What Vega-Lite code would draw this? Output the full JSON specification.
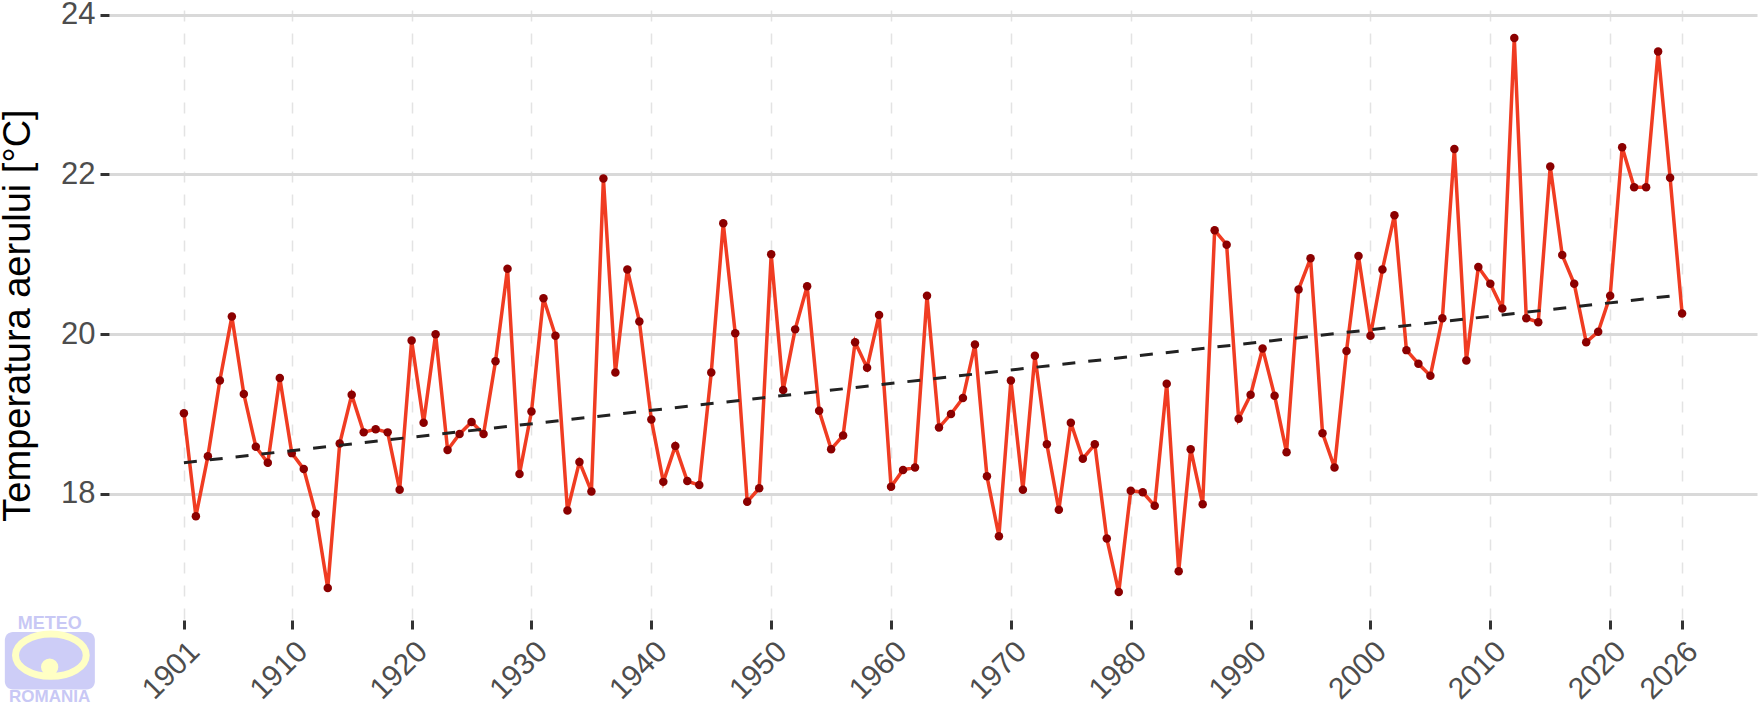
{
  "$schema": "https://vega.github.io/schema/vega-lite/v6.json",
  "width": 1648,
  "height": 610,
  "autosize": {"type": "none"},
  "padding": {"left": 109, "top": 10, "right": 1, "bottom": 85},
  "background": "white",
  "datasets": {
    "temp": [
      {"year": 1901, "temp": 19.01}, {"year": 1902, "temp": 17.72}, {"year": 1903, "temp": 18.47},
      {"year": 1904, "temp": 19.42}, {"year": 1905, "temp": 20.22}, {"year": 1906, "temp": 19.25},
      {"year": 1907, "temp": 18.59}, {"year": 1908, "temp": 18.39}, {"year": 1909, "temp": 19.45},
      {"year": 1910, "temp": 18.51}, {"year": 1911, "temp": 18.31}, {"year": 1912, "temp": 17.75},
      {"year": 1913, "temp": 16.82}, {"year": 1914, "temp": 18.63}, {"year": 1915, "temp": 19.24},
      {"year": 1916, "temp": 18.77}, {"year": 1917, "temp": 18.81}, {"year": 1918, "temp": 18.77},
      {"year": 1919, "temp": 18.05}, {"year": 1920, "temp": 19.92}, {"year": 1921, "temp": 18.89},
      {"year": 1922, "temp": 20.0}, {"year": 1923, "temp": 18.55}, {"year": 1924, "temp": 18.75},
      {"year": 1925, "temp": 18.9}, {"year": 1926, "temp": 18.75}, {"year": 1927, "temp": 19.66},
      {"year": 1928, "temp": 20.82}, {"year": 1929, "temp": 18.25}, {"year": 1930, "temp": 19.03},
      {"year": 1931, "temp": 20.45}, {"year": 1932, "temp": 19.98}, {"year": 1933, "temp": 17.79},
      {"year": 1934, "temp": 18.4}, {"year": 1935, "temp": 18.03}, {"year": 1936, "temp": 21.95},
      {"year": 1937, "temp": 19.52}, {"year": 1938, "temp": 20.81}, {"year": 1939, "temp": 20.16},
      {"year": 1940, "temp": 18.93}, {"year": 1941, "temp": 18.15}, {"year": 1942, "temp": 18.6},
      {"year": 1943, "temp": 18.16}, {"year": 1944, "temp": 18.11}, {"year": 1945, "temp": 19.52},
      {"year": 1946, "temp": 21.39}, {"year": 1947, "temp": 20.01}, {"year": 1948, "temp": 17.9},
      {"year": 1949, "temp": 18.07}, {"year": 1950, "temp": 21.0}, {"year": 1951, "temp": 19.3},
      {"year": 1952, "temp": 20.06}, {"year": 1953, "temp": 20.6}, {"year": 1954, "temp": 19.04},
      {"year": 1955, "temp": 18.56}, {"year": 1956, "temp": 18.73}, {"year": 1957, "temp": 19.9},
      {"year": 1958, "temp": 19.58}, {"year": 1959, "temp": 20.24}, {"year": 1960, "temp": 18.09},
      {"year": 1961, "temp": 18.3}, {"year": 1962, "temp": 18.33}, {"year": 1963, "temp": 20.48},
      {"year": 1964, "temp": 18.83}, {"year": 1965, "temp": 19.0}, {"year": 1966, "temp": 19.2},
      {"year": 1967, "temp": 19.87}, {"year": 1968, "temp": 18.22}, {"year": 1969, "temp": 17.47},
      {"year": 1970, "temp": 19.42}, {"year": 1971, "temp": 18.05}, {"year": 1972, "temp": 19.73},
      {"year": 1973, "temp": 18.62}, {"year": 1974, "temp": 17.8}, {"year": 1975, "temp": 18.89},
      {"year": 1976, "temp": 18.44}, {"year": 1977, "temp": 18.62}, {"year": 1978, "temp": 17.44},
      {"year": 1979, "temp": 16.77}, {"year": 1980, "temp": 18.04}, {"year": 1981, "temp": 18.02},
      {"year": 1982, "temp": 17.85}, {"year": 1983, "temp": 19.38}, {"year": 1984, "temp": 17.03},
      {"year": 1985, "temp": 18.56}, {"year": 1986, "temp": 17.87}, {"year": 1987, "temp": 21.3},
      {"year": 1988, "temp": 21.12}, {"year": 1989, "temp": 18.94}, {"year": 1990, "temp": 19.24},
      {"year": 1991, "temp": 19.82}, {"year": 1992, "temp": 19.23}, {"year": 1993, "temp": 18.52},
      {"year": 1994, "temp": 20.56}, {"year": 1995, "temp": 20.95}, {"year": 1996, "temp": 18.76},
      {"year": 1997, "temp": 18.33}, {"year": 1998, "temp": 19.79}, {"year": 1999, "temp": 20.98},
      {"year": 2000, "temp": 19.98}, {"year": 2001, "temp": 20.81}, {"year": 2002, "temp": 21.49},
      {"year": 2003, "temp": 19.8}, {"year": 2004, "temp": 19.63}, {"year": 2005, "temp": 19.48},
      {"year": 2006, "temp": 20.2}, {"year": 2007, "temp": 22.32}, {"year": 2008, "temp": 19.67},
      {"year": 2009, "temp": 20.84}, {"year": 2010, "temp": 20.63}, {"year": 2011, "temp": 20.32},
      {"year": 2012, "temp": 23.71}, {"year": 2013, "temp": 20.2}, {"year": 2014, "temp": 20.15},
      {"year": 2015, "temp": 22.1}, {"year": 2016, "temp": 20.99}, {"year": 2017, "temp": 20.63},
      {"year": 2018, "temp": 19.9}, {"year": 2019, "temp": 20.03}, {"year": 2020, "temp": 20.48},
      {"year": 2021, "temp": 22.34}, {"year": 2022, "temp": 21.84}, {"year": 2023, "temp": 21.84},
      {"year": 2024, "temp": 23.54}, {"year": 2025, "temp": 21.96}, {"year": 2026, "temp": 20.26}
    ]
  },
  "layer": [
    {
      "data": {"name": "temp"},
      "mark": {"type": "line", "color": "#F03C22", "strokeWidth": 3.5},
      "encoding": {
        "x": {
          "field": "year",
          "type": "quantitative",
          "title": null,
          "scale": {"domain": [1894.75, 2032.25], "nice": false, "zero": false},
          "axis": {
            "title": null,
            "values": [1901, 1910, 1920, 1930, 1940, 1950, 1960, 1970, 1980, 1990, 2000, 2010, 2020, 2026],
            "format": "d",
            "labelAngle": -45,
            "labelAlign": "right",
            "labelBaseline": "top",
            "labelPadding": 7,
            "labelFontSize": 30,
            "labelColor": "#4D4D4D",
            "labelFont": "Liberation Sans",
            "labelOverlap": false,
            "domain": false,
            "tickColor": "#333333",
            "tickWidth": 3,
            "tickSize": 9,
            "grid": true,
            "gridColor": "#E3E3E3",
            "gridWidth": 1.5,
            "gridDash": [11, 12]
          }
        },
        "y": {
          "field": "temp",
          "type": "quantitative",
          "title": "Temperatura aerului [°C]",
          "scale": {"domain": [16.42, 24.06], "nice": false, "zero": false},
          "axis": {
            "title": "Temperatura aerului [°C]",
            "titleFont": "Liberation Sans",
            "titleFontSize": 38,
            "titleFontWeight": "normal",
            "titleColor": "black",
            "titlePadding": 23,
            "values": [18, 20, 22, 24],
            "format": "d",
            "labelFontSize": 31,
            "labelColor": "#4D4D4D",
            "labelFont": "Liberation Sans",
            "labelPadding": 5,
            "domain": false,
            "tickColor": "#333333",
            "tickWidth": 3,
            "tickSize": 9,
            "grid": true,
            "gridColor": "#D9D9D9",
            "gridWidth": 3
          }
        }
      }
    },
    {
      "data": {"name": "temp"},
      "mark": {"type": "circle", "color": "#8B0000", "opacity": 1, "size": 72},
      "encoding": {
        "x": {"field": "year", "type": "quantitative", "title": null},
        "y": {"field": "temp", "type": "quantitative", "title": "Temperatura aerului [°C]"}
      }
    },
    {
      "data": {"name": "temp"},
      "transform": [{"regression": "temp", "on": "year", "extent": [1901, 2026]}],
      "mark": {"type": "line", "color": "#222222", "strokeWidth": 3, "strokeDash": [13, 13]},
      "encoding": {
        "x": {"field": "year", "type": "quantitative", "title": null},
        "y": {"field": "temp", "type": "quantitative", "title": "Temperatura aerului [°C]"}
      }
    },
    {
      "data": {"values": [{}]},
      "mark": {"type": "rect", "fill": "#CDCDF7", "cornerRadius": 8},
      "encoding": {
        "x": {"datum": 1886.06, "type": "quantitative", "title": null},
        "x2": {"datum": 1893.57},
        "y": {"datum": 16.27, "type": "quantitative", "title": "Temperatura aerului [°C]"},
        "y2": {"datum": 15.55}
      }
    },
    {
      "data": {"values": [{}]},
      "mark": {
        "type": "point",
        "shape": "M-1,0A1,0.6 0 1,0 1,0A1,0.6 0 1,0 -1,0Z",
        "stroke": "#FFFFC4",
        "strokeWidth": 7,
        "filled": false,
        "opacity": 1,
        "size": 5000
      },
      "encoding": {
        "x": {"datum": 1889.9, "type": "quantitative", "title": null},
        "y": {"datum": 15.98, "type": "quantitative", "title": "Temperatura aerului [°C]"}
      }
    },
    {
      "data": {"values": [{}]},
      "mark": {"type": "circle", "color": "#FFFFC4", "opacity": 1, "size": 300},
      "encoding": {
        "x": {"datum": 1889.8, "type": "quantitative", "title": null},
        "y": {"datum": 15.83, "type": "quantitative", "title": "Temperatura aerului [°C]"}
      }
    },
    {
      "data": {"values": [{}]},
      "mark": {"type": "text", "font": "Liberation Sans", "fontWeight": "bold", "fontSize": 18, "color": "#C8C8F5", "baseline": "middle"},
      "encoding": {
        "x": {"datum": 1889.8, "type": "quantitative", "title": null},
        "y": {"datum": 16.37, "type": "quantitative", "title": "Temperatura aerului [°C]"},
        "text": {"value": "METEO"}
      }
    },
    {
      "data": {"values": [{}]},
      "mark": {"type": "text", "font": "Liberation Sans", "fontWeight": "bold", "fontSize": 17, "color": "#C8C8F5", "baseline": "middle"},
      "encoding": {
        "x": {"datum": 1889.8, "type": "quantitative", "title": null},
        "y": {"datum": 15.45, "type": "quantitative", "title": "Temperatura aerului [°C]"},
        "text": {"value": "ROMANIA"}
      }
    }
  ],
  "config": {
    "view": {"stroke": null},
    "font": "Liberation Sans"
  }
}
